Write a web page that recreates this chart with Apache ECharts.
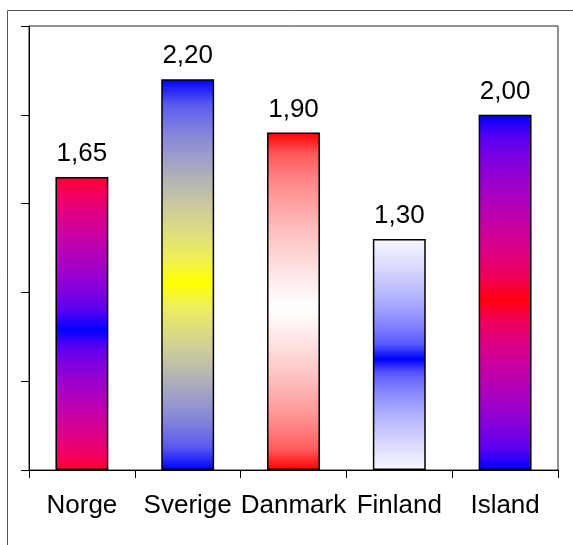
<!DOCTYPE html>
<html>
<head>
<meta charset="utf-8">
<script src="https://cdn.jsdelivr.net/npm/echarts@6/dist/echarts.min.js"></script>
<style>
html,body{margin:0;padding:0;background:#fff;}
#chart{width:573px;height:545px;}
</style>
</head>
<body>
<div id="chart"></div>
<script>
var categories = ['Norge', 'Sverige', 'Danmark', 'Finland', 'Island'];
var values = [1.65, 2.20, 1.90, 1.30, 2.00];
// gradient colours per bar: [edge colour, centre colour]
var gradientEnds = [
  [[255, 0, 48], [0, 0, 255]],
  [[0, 0, 255], [255, 255, 0]],
  [[255, 0, 0], [255, 255, 255]],
  [[248, 248, 255], [0, 0, 255]],
  [[0, 0, 255], [255, 0, 16]]
];

function mix(a, b, t) {
  var c = a.map(function (x, k) {
    return Math.round(Math.sqrt((1 - t) * x * x + t * b[k] * b[k]));
  });
  return 'rgb(' + c.join(',') + ')';
}

function grad(pair) {
  var stops = [];
  var mid = 0.52, n = 8;
  for (var i = 0; i <= n; i++) {
    stops.push({offset: mid * i / n, color: mix(pair[0], pair[1], i / n)});
  }
  for (var j = 1; j <= n; j++) {
    stops.push({offset: mid + (1 - mid) * j / n, color: mix(pair[1], pair[0], j / n)});
  }
  return new echarts.graphic.LinearGradient(0, 0, 0, 1, stops);
}

var data = values.map(function (v, i) {
  return {value: v, itemStyle: {color: grad(gradientEnds[i])}};
});

var chart = echarts.init(document.getElementById('chart'));
chart.setOption({
  animation: false,
  backgroundColor: '#fff',
  textStyle: {fontFamily: 'Liberation Sans, Arial, sans-serif'},
  graphic: [{
    type: 'rect',
    shape: {x: 7.5, y: 10.5, width: 700, height: 700},
    style: {fill: 'none', stroke: '#555', lineWidth: 1},
    silent: true, z: 0
  }],
  grid: {left: 29, top: 26, right: 15, bottom: 75, show: true, borderColor: '#222', borderWidth: 1, backgroundColor: 'transparent'},
  xAxis: {
    type: 'category',
    data: categories,
    axisLine: {lineStyle: {color: '#000', width: 1}},
    axisTick: {show: true, alignWithLabel: false, length: 8, lineStyle: {color: '#000'}},
    axisLabel: {color: '#000', fontSize: 26, margin: 23, interval: 0, fontFamily: 'Liberation Sans, Arial, sans-serif'},
    splitLine: {show: false}
  },
  yAxis: {
    type: 'value',
    min: 0, max: 2.5, interval: 0.5,
    axisLine: {show: true, lineStyle: {color: '#000', width: 1}},
    axisTick: {show: true, length: 8, lineStyle: {color: '#000'}},
    axisLabel: {show: false},
    splitLine: {show: false}
  },
  series: [{
    type: 'bar',
    data: data,
    barWidth: '50%',
    itemStyle: {borderColor: '#000', borderWidth: 1.5},
    label: {
      show: true, position: 'top', distance: 10,
      color: '#000', fontSize: 26, fontFamily: 'Liberation Sans, Arial, sans-serif',
      formatter: function (p) { return p.value.toFixed(2).replace('.', ','); }
    }
  }]
});
</script>
</body>
</html>
